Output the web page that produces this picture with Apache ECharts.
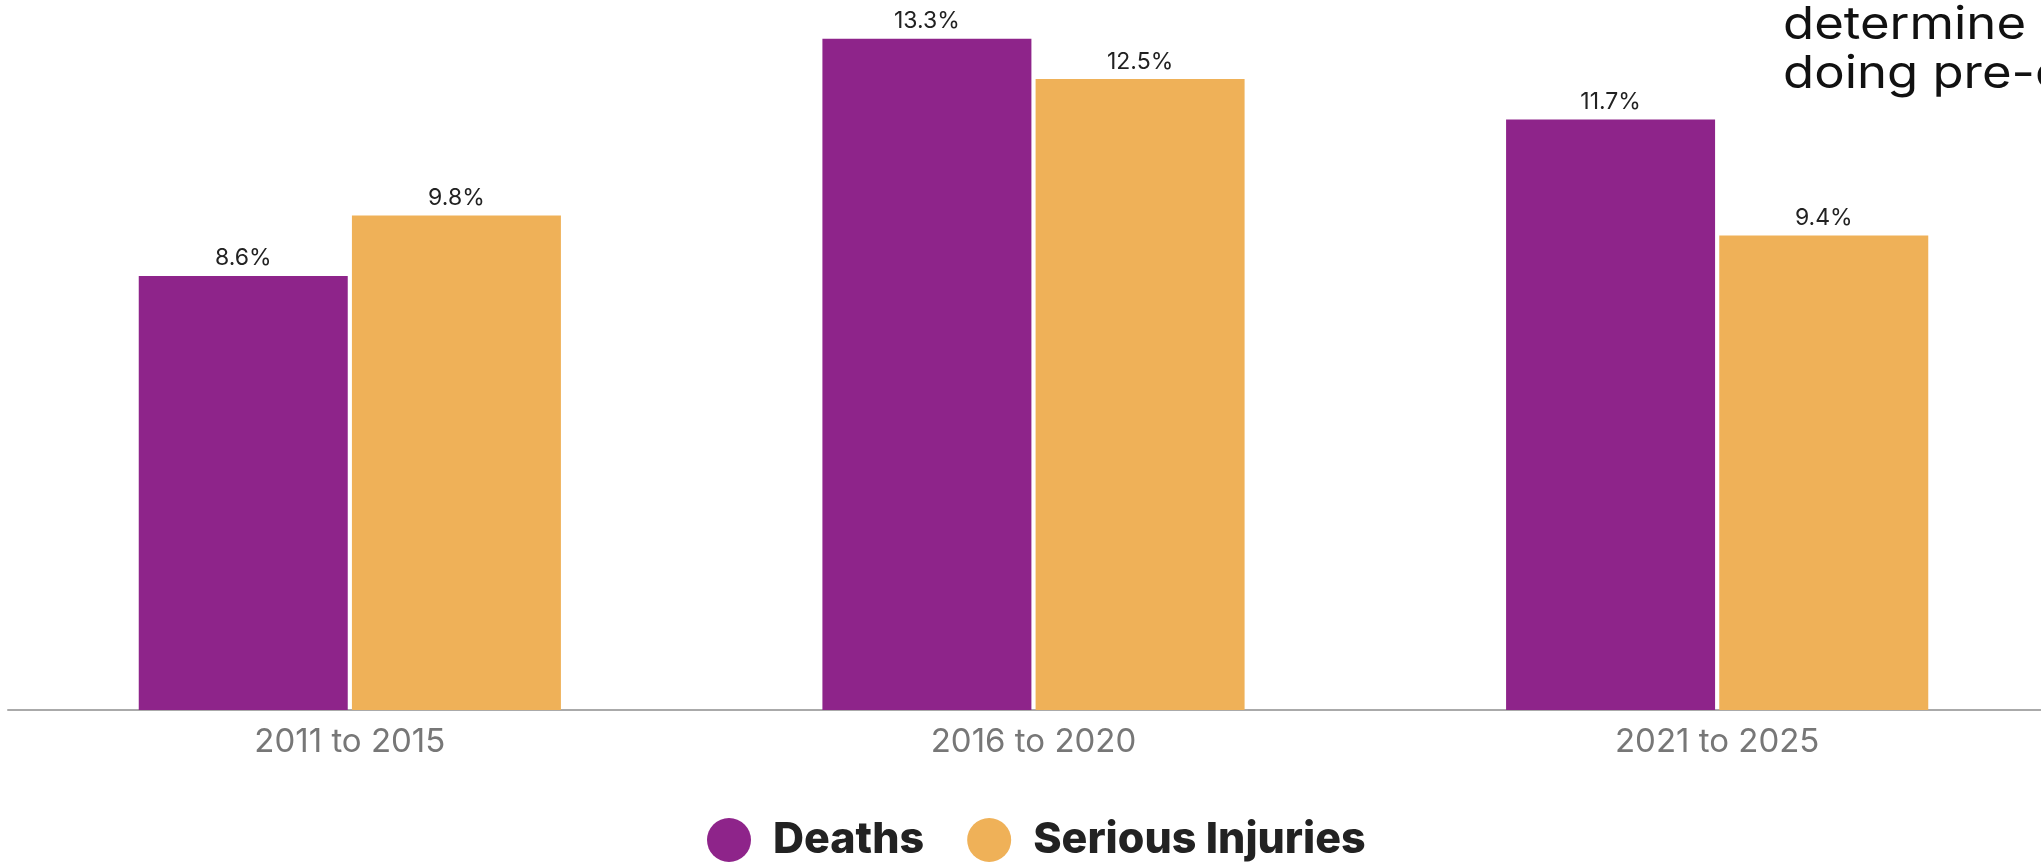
<!DOCTYPE html>
<html>
<head>
<meta charset="utf-8">
<script src="https://cdn.jsdelivr.net/npm/echarts@6/dist/echarts.min.js"></script>
<style>
  html, body { margin: 0; padding: 0; background: #fff; }
  #chart { width: 2041px; height: 863px; }
</style>
</head>
<body>
<div id="chart"></div>
<script>
const periods = ['2011 to 2015', '2016 to 2020', '2021 to 2025'];
const deaths = [8.6, 13.3, 11.7];
const seriousInjuries = [9.8, 12.5, 9.4];
const seriesNames = ['Deaths', 'Serious Injuries'];
const sideText = 'determine\ndoing pre-crash';

const PURPLE = '#8E248A';
const ORANGE = '#EFB158';
const FONT = 'Inter, "Noto Sans", sans-serif';

const chart = echarts.init(document.getElementById('chart'));

const valueLabel = {
  show: true,
  position: 'top',
  distance: 6,
  color: '#222',
  fontFamily: FONT,
  fontSize: 23,
  formatter: (p) => `${p.value}%`,
};

chart.setOption({
  animation: false,
  // the plot runs a little past the right edge, as in the source
  grid: {
    left: 8,
    width: 2051,
    top: 3.4,
    bottom: 153,
    containLabel: false,
    outerBoundsMode: 'none',
  },
  legend: {
    data: seriesNames,
    left: 702,
    top: 813,
    icon: 'circle',
    itemWidth: 44,
    itemHeight: 44,
    itemGap: 43,
    textStyle: {
      fontFamily: FONT,
      fontWeight: 800,
      fontSize: 43,
      color: '#222',
      padding: [0, 0, 0, 17],
    },
  },
  xAxis: {
    type: 'category',
    data: periods,
    axisLine: { lineStyle: { color: '#aaa', width: 2 } },
    axisTick: { show: false },
    axisLabel: { fontFamily: FONT, fontSize: 33, color: '#777', margin: 16 },
  },
  yAxis: {
    type: 'value',
    min: 0,
    max: 14,
    show: false,
    splitLine: { show: false },
  },
  series: [
    {
      name: seriesNames[0],
      type: 'bar',
      data: deaths,
      barWidth: 209,
      barGap: '2%',
      itemStyle: { color: PURPLE },
      label: valueLabel,
    },
    {
      name: seriesNames[1],
      type: 'bar',
      data: seriousInjuries,
      barWidth: 209,
      itemStyle: { color: ORANGE },
      label: valueLabel,
    },
  ],
  graphic: [
    {
      type: 'text',
      x: 1783,
      y: 1,
      scaleX: 1.13,
      style: {
        text: sideText,
        fontFamily: FONT,
        fontSize: 45,
        lineHeight: 49,
        fill: '#111',
        verticalAlign: 'top',
      },
    },
  ],
});
</script>
</body>
</html>
